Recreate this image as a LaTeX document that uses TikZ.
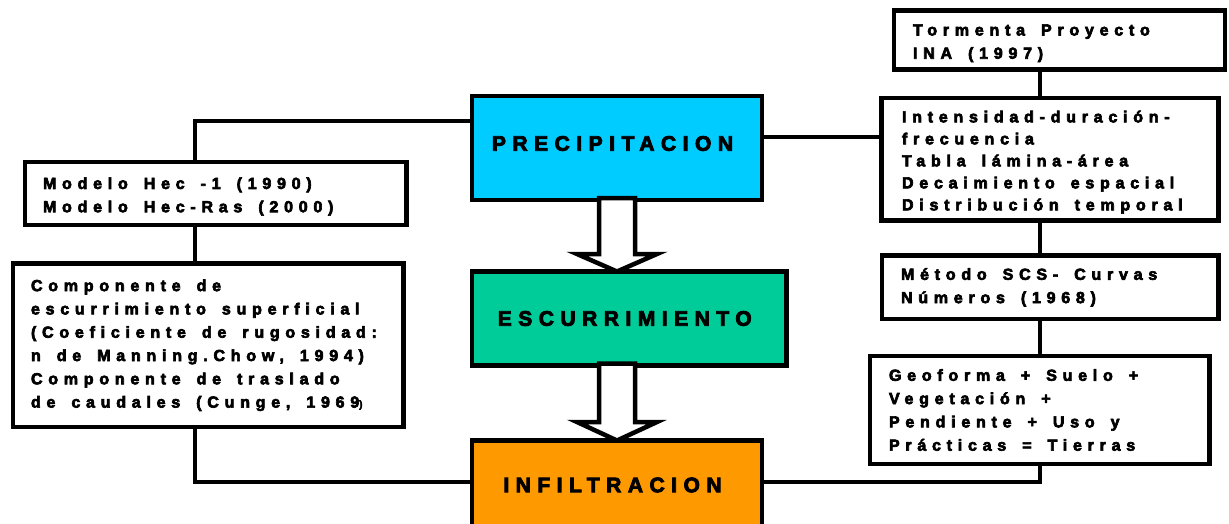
\documentclass[tikz,border=0pt]{standalone}
\usepackage{fontspec}
\setmainfont{Liberation Sans}
\newfontfamily\smallfont[LetterSpace=36,FakeBold=4]{Liberation Sans Bold}
\newfontfamily\bigfont[LetterSpace=31,FakeBold=4]{Liberation Sans Bold}
\usetikzlibrary{calc}
\definecolor{precc}{HTML}{00CCFF}
\definecolor{escc}{HTML}{00CC99}
\definecolor{infc}{HTML}{FF9900}
\newcommand{\dnrule}{\rule{0pt}{17.5pt}}
\newcommand{\wsp}{\hspace{16pt}}
\newcommand{\smallsel}[1]{\smallfont\fontsize{16}{#1}\selectfont}
\begin{document}
\begin{tikzpicture}[x=1pt,y=-1pt,
  box/.style={draw=black,line width=4.5pt,fill=white,inner xsep=18pt,inner ysep=0pt,
    outer sep=0pt,align=left,font={\smallsel{23.3}}},
  bigbox/.style={draw=black,line width=4.5pt,inner sep=0pt,outer sep=0pt,
    font={\bigfont\fontsize{21}{25}\selectfont}},
  conn/.style={draw=black,line width=4pt},
  blockarrow/.style={draw=black,fill=white,line width=4.5pt,line join=miter}]
\useasboundingbox (0,0) rectangle (1229,523);
% central boxes
\node[bigbox,fill=precc,minimum width=290pt,minimum height=104pt] (prec) at (617,148)
  {\kern-9pt\raisebox{4.5pt}[\height][\depth]{PRECIPITACION}};
\node[bigbox,fill=escc,minimum width=314.5pt,minimum height=94pt] (esc) at (629.25,318.5)
  {\kern-9pt ESCURRIMIENTO};
\node[bigbox,fill=infc,minimum width=290pt,minimum height=89pt] (inf) at (617,485)
  {\kern-9pt INFILTRACION};
% left boxes
\node[box,minimum width=381.5pt,minimum height=63pt,text width=345.5pt] (modelo) at (215.75,193.5)
  {\dnrule\mbox{Modelo\wsp Hec\wsp -1\wsp (1990)}\\\mbox{Modelo\wsp Hec-Ras\wsp (2000)}};
\node[box,minimum width=390.5pt,minimum height=163.5pt,text width=354.5pt] (comp) at (208.25,345.25)
  {\mbox{Componente\wsp de}\\\mbox{escurrimiento\wsp superficial}\\\mbox{(Coeficiente\wsp de\wsp rugosidad:}\\\mbox{n\wsp de\wsp Manning.Chow,\wsp 1994)}\\\mbox{Componente\wsp de\wsp traslado}\\\mbox{de\wsp caudales\wsp (Cunge,\wsp 1969{\fontsize{10}{10}\selectfont)}}};
% right boxes
\node[box,inner xsep=19pt,minimum width=331pt,minimum height=59pt,text width=293pt] (torm) at (1059.5,40)
  {\dnrule\mbox{Tormenta\wsp Proyecto}\\\mbox{INA\wsp (1997)}};
\node[box,inner xsep=20.5pt,minimum width=337pt,minimum height=122.5pt,text width=296pt,
  font={\smallsel{22}}] (int) at (1050,159.25)
  {\dnrule\mbox{Intensidad-duración-}\\\mbox{frecuencia}\\\mbox{Tabla\wsp lámina-área}\\\mbox{Decaimiento\wsp espacial}\\\mbox{Distribución\wsp temporal}};
\node[box,inner xsep=19pt,minimum width=336.5pt,minimum height=63.5pt,text width=298.5pt] (met) at (1050.25,287.25)
  {\mbox{Método\wsp SCS-\wsp Curvas}\\\mbox{Números\wsp (1968)}};
\node[box,inner xsep=19pt,minimum width=339.5pt,minimum height=108pt,text width=301.5pt] (geo) at (1039.75,410)
  {\mbox{Geoforma\wsp +\wsp Suelo\wsp +}\\\mbox{Vegetación\wsp +}\\\mbox{Pendiente\wsp +\wsp Uso\wsp y}\\\mbox{Prácticas\wsp =\wsp Tierras}};
% helper coordinates
\coordinate (pl) at ([yshift=27pt]prec.west);
\coordinate (pr) at ([yshift=11pt]prec.east);
\coordinate (lx) at ([xshift=-21.25pt]modelo.north);
\coordinate (rx) at ([xshift=-10pt]int.north);
\coordinate (il) at ([yshift=3.5pt]inf.west);
\coordinate (ir) at ([yshift=3pt]inf.east);
% left connectors
\draw[conn] (pl) -| (lx);
\draw[conn] (lx |- modelo.south) -- (lx |- comp.north);
\draw[conn] (lx |- comp.south) |- (il);
% right connectors
\draw[conn] (pr) -- (pr -| int.west);
\draw[conn] (rx |- torm.south) -- (rx |- int.north);
\draw[conn] (rx |- int.south) -- (rx |- met.north);
\draw[conn] (rx |- met.south) -- (rx |- geo.north);
\draw[conn] (rx |- geo.south) |- (ir);
% block arrows
\draw[blockarrow] ($(prec.south)+(-18,-2)$) -- ($(prec.south |- esc.north)+(-18,-17.5)$)
  -- ($(prec.south |- esc.north)+(-40,-17.5)$) -- (prec.south |- esc.north)
  -- ($(prec.south |- esc.north)+(40,-17.5)$) -- ($(prec.south |- esc.north)+(18,-17.5)$)
  -- ($(prec.south)+(18,-2)$) -- cycle;
\draw[blockarrow] ($(inf.north |- esc.south)+(-18,-2)$) -- ($(inf.north)+(-18,-18.5)$)
  -- ($(inf.north)+(-40,-18.5)$) -- (inf.north)
  -- ($(inf.north)+(40,-18.5)$) -- ($(inf.north)+(18,-18.5)$)
  -- ($(inf.north |- esc.south)+(18,-2)$) -- cycle;
\end{tikzpicture}
\end{document}
